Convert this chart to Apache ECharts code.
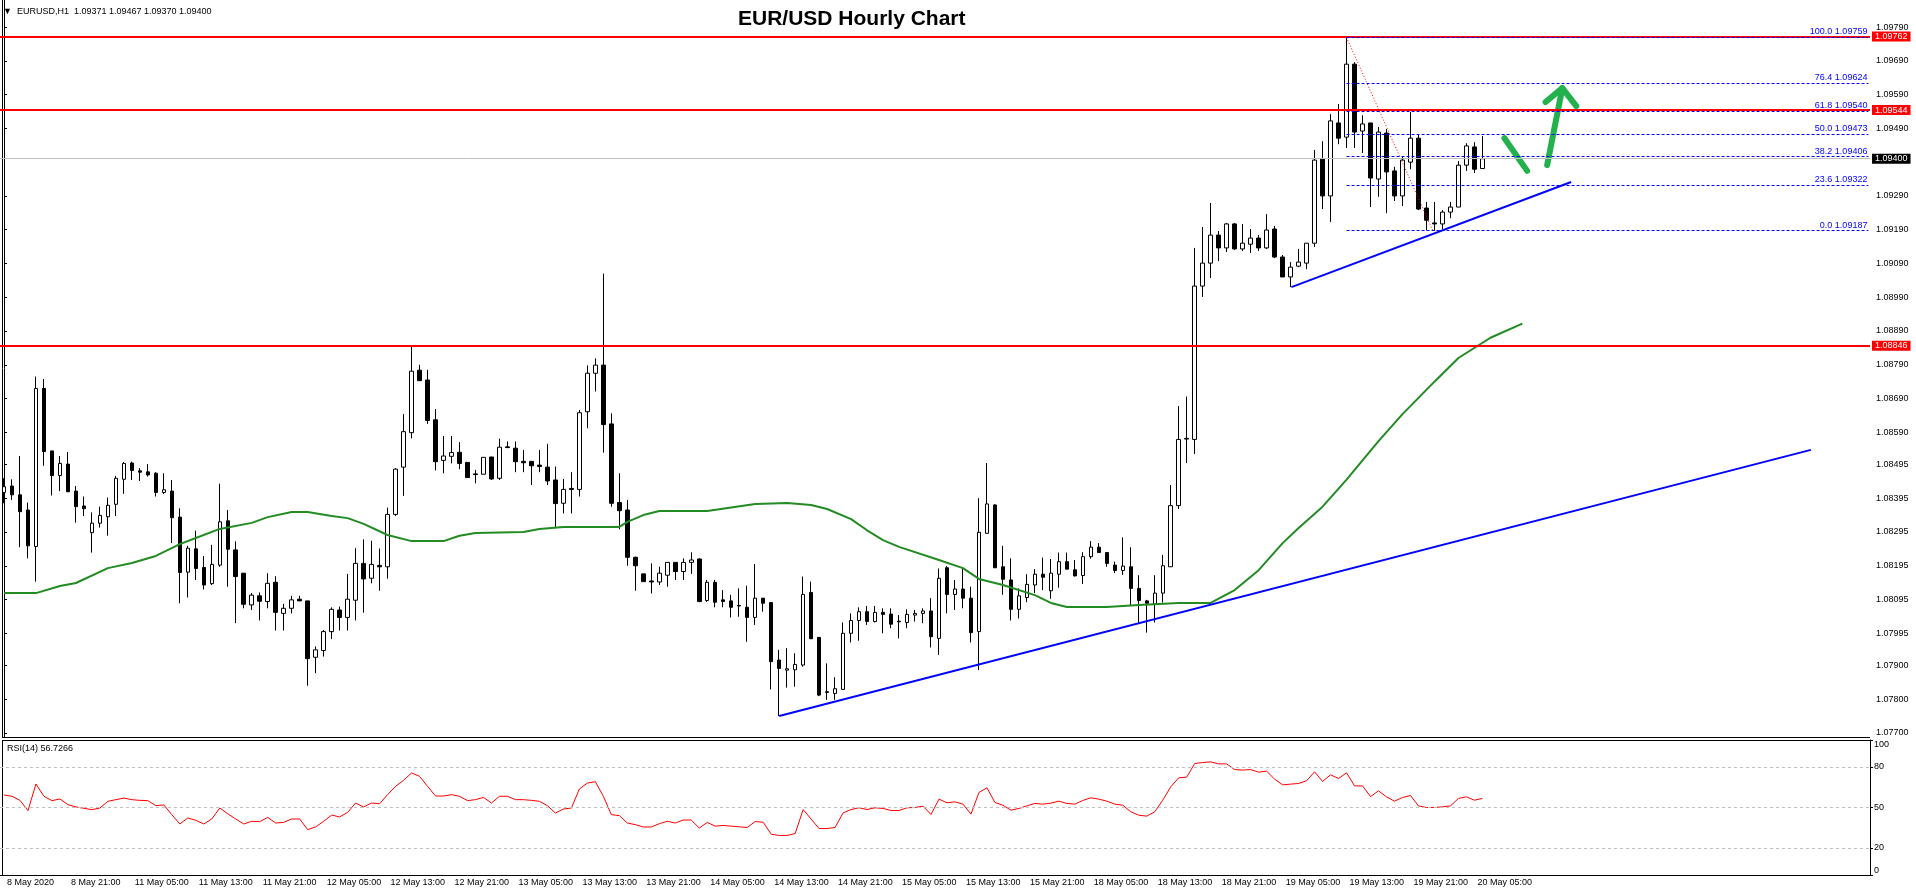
<!DOCTYPE html>
<html>
<head>
<meta charset="utf-8">
<title>EUR/USD Hourly Chart</title>
<script src="https://cdn.jsdelivr.net/npm/echarts@6/dist/echarts.min.js"></script>
<style>
  html, body { margin: 0; padding: 0; background: #fff; }
  #chart { width: 1916px; height: 896px; }
</style>
</head>
<body>
<div id="chart"></div>
<script>
// EURUSD H1 bars, 8 May 2020 13:00 .. 20 May 2020 06:00
const opens = [
  1.08412, 1.08431, 1.08405, 1.08360, 1.08252, 1.08720, 1.08535, 1.08462, 1.08496, 1.08416,
  1.08372, 1.08293, 1.08321, 1.08340, 1.08377, 1.08451, 1.08499, 1.08476, 1.08473, 1.08469,
  1.08412, 1.08416, 1.08339, 1.08176, 1.08245, 1.08190, 1.08142, 1.08197, 1.08328, 1.08242,
  1.08173, 1.08079, 1.08106, 1.08089, 1.08146, 1.08054, 1.08069, 1.08096, 1.08091, 1.07924,
  1.07944, 1.08000, 1.08064, 1.08042, 1.08093, 1.08202, 1.08158, 1.08196, 1.08192, 1.08347,
  1.08487, 1.08589, 1.08774, 1.08745, 1.08627, 1.08507, 1.08519, 1.08531, 1.08501, 1.08467,
  1.08466, 1.08517, 1.08454, 1.08547, 1.08543, 1.08504, 1.08504, 1.08493, 1.08487, 1.08449,
  1.08380, 1.08424, 1.08421, 1.08651, 1.08765, 1.08789, 1.08615, 1.08382, 1.08360, 1.08220,
  1.08171, 1.08150, 1.08147, 1.08167, 1.08205, 1.08178, 1.08205, 1.08215, 1.08092, 1.08146,
  1.08094, 1.08091, 1.08077, 1.08072, 1.08042, 1.08099, 1.08086, 1.07916, 1.07886, 1.07887,
  1.07901, 1.08116, 1.07983, 1.07822, 1.07817, 1.07829, 1.07995, 1.08033, 1.08059, 1.08030,
  1.08057, 1.08052, 1.08031, 1.08027, 1.08049, 1.08054, 1.08061, 1.07980, 1.08189, 1.08110,
  1.08126, 1.08099, 1.08000, 1.08291, 1.08375, 1.08192, 1.08153, 1.08066, 1.08101, 1.08138,
  1.08170, 1.08121, 1.08170, 1.08207, 1.08183, 1.08166, 1.08222, 1.08250, 1.08234, 1.08197,
  1.08181, 1.08192, 1.08128, 1.08091, 1.08081, 1.08114, 1.08192, 1.08373, 1.08570, 1.08569,
  1.09023, 1.09091, 1.09174, 1.09136, 1.09207, 1.09133, 1.09147, 1.09165, 1.09136, 1.09192,
  1.09109, 1.09050, 1.09082, 1.09091, 1.09150, 1.09399, 1.09290, 1.09506, 1.09464, 1.09680,
  1.09482, 1.09506, 1.09340, 1.09476, 1.09364, 1.09290, 1.09390, 1.09461, 1.09254, 1.09210,
  1.09207, 1.09242, 1.09257, 1.09381, 1.09435, 1.09371
];
const highs = [
  1.08454, 1.08451, 1.08520, 1.08382, 1.08755, 1.08748, 1.08535, 1.08520, 1.08532, 1.08431,
  1.08400, 1.08353, 1.08370, 1.08397, 1.08461, 1.08502, 1.08503, 1.08484, 1.08496, 1.08472,
  1.08469, 1.08449, 1.08365, 1.08254, 1.08299, 1.08224, 1.08257, 1.08438, 1.08360, 1.08267,
  1.08173, 1.08114, 1.08116, 1.08173, 1.08164, 1.08082, 1.08106, 1.08106, 1.08091, 1.07956,
  1.08005, 1.08072, 1.08074, 1.08171, 1.08247, 1.08273, 1.08269, 1.08246, 1.08367, 1.08484,
  1.08644, 1.08846, 1.08790, 1.08775, 1.08659, 1.08579, 1.08579, 1.08561, 1.08501, 1.08479,
  1.08516, 1.08517, 1.08571, 1.08563, 1.08563, 1.08538, 1.08504, 1.08538, 1.08556, 1.08489,
  1.08452, 1.08472, 1.08656, 1.08788, 1.08809, 1.09060, 1.08646, 1.08469, 1.08390, 1.08222,
  1.08171, 1.08202, 1.08192, 1.08205, 1.08205, 1.08217, 1.08235, 1.08217, 1.08153, 1.08153,
  1.08123, 1.08109, 1.08128, 1.08136, 1.08200, 1.08099, 1.08088, 1.07946, 1.07951, 1.07936,
  1.08163, 1.08148, 1.07983, 1.07906, 1.07865, 1.08027, 1.08054, 1.08072, 1.08076, 1.08076,
  1.08069, 1.08069, 1.08049, 1.08066, 1.08064, 1.08069, 1.08099, 1.08187, 1.08194, 1.08153,
  1.08189, 1.08133, 1.08395, 1.08499, 1.08377, 1.08254, 1.08217, 1.08128, 1.08170, 1.08185,
  1.08219, 1.08215, 1.08234, 1.08234, 1.08212, 1.08235, 1.08268, 1.08262, 1.08234, 1.08207,
  1.08279, 1.08250, 1.08167, 1.08094, 1.08167, 1.08227, 1.08434, 1.08668, 1.08696, 1.09136,
  1.09198, 1.09269, 1.09186, 1.09210, 1.09210, 1.09207, 1.09192, 1.09174, 1.09236, 1.09201,
  1.09115, 1.09094, 1.09133, 1.09150, 1.09426, 1.09452, 1.09532, 1.09562, 1.09759, 1.09686,
  1.09529, 1.09506, 1.09494, 1.09488, 1.09376, 1.09405, 1.09538, 1.09473, 1.09272, 1.09272,
  1.09248, 1.09272, 1.09393, 1.09446, 1.09449, 1.09467
];
const lows = [
  1.08380, 1.08390, 1.08250, 1.08217, 1.08148, 1.08491, 1.08403, 1.08416, 1.08414, 1.08323,
  1.08342, 1.08234, 1.08308, 1.08284, 1.08342, 1.08408, 1.08449, 1.08446, 1.08459, 1.08400,
  1.08407, 1.08262, 1.08084, 1.08101, 1.08153, 1.08125, 1.08138, 1.08192, 1.08133, 1.08025,
  1.08069, 1.08064, 1.08033, 1.08069, 1.08003, 1.08003, 1.08054, 1.08091, 1.07840, 1.07877,
  1.07926, 1.07978, 1.08003, 1.08003, 1.08033, 1.08056, 1.08143, 1.08121, 1.08157, 1.08342,
  1.08402, 1.08572, 1.08743, 1.08615, 1.08477, 1.08469, 1.08498, 1.08481, 1.08456, 1.08439,
  1.08466, 1.08449, 1.08449, 1.08543, 1.08472, 1.08472, 1.08434, 1.08472, 1.08434, 1.08306,
  1.08350, 1.08350, 1.08400, 1.08602, 1.08711, 1.08530, 1.08370, 1.08303, 1.08195, 1.08121,
  1.08148, 1.08113, 1.08138, 1.08133, 1.08153, 1.08153, 1.08171, 1.08087, 1.08088, 1.08072,
  1.08072, 1.08042, 1.08044, 1.07970, 1.08020, 1.08059, 1.07829, 1.07750, 1.07834, 1.07837,
  1.07896, 1.07978, 1.07809, 1.07798, 1.07798, 1.07827, 1.07968, 1.07973, 1.08020, 1.08027,
  1.07995, 1.08010, 1.07980, 1.08010, 1.08030, 1.08025, 1.07953, 1.07931, 1.08054, 1.08064,
  1.08069, 1.07968, 1.07886, 1.08291, 1.08189, 1.08109, 1.08033, 1.08039, 1.08087, 1.08114,
  1.08123, 1.08097, 1.08130, 1.08185, 1.08163, 1.08141, 1.08216, 1.08234, 1.08192, 1.08173,
  1.08168, 1.08079, 1.08027, 1.07997, 1.08027, 1.08086, 1.08192, 1.08363, 1.08499, 1.08526,
  1.08991, 1.09047, 1.09097, 1.09124, 1.09130, 1.09127, 1.09121, 1.09127, 1.09133, 1.09106,
  1.09050, 1.09020, 1.09079, 1.09073, 1.09139, 1.09251, 1.09213, 1.09443, 1.09432, 1.09432,
  1.09417, 1.09257, 1.09287, 1.09239, 1.09275, 1.09260, 1.09369, 1.09248, 1.09188, 1.09187,
  1.09191, 1.09224, 1.09257, 1.09364, 1.09358, 1.09370
];
const closes = [
  1.08429, 1.08405, 1.08355, 1.08254, 1.08720, 1.08533, 1.08462, 1.08498, 1.08414, 1.08370,
  1.08364, 1.08321, 1.08344, 1.08374, 1.08454, 1.08498, 1.08477, 1.08472, 1.08464, 1.08412,
  1.08420, 1.08337, 1.08175, 1.08247, 1.08187, 1.08138, 1.08199, 1.08325, 1.08244, 1.08163,
  1.08081, 1.08108, 1.08090, 1.08143, 1.08057, 1.08069, 1.08094, 1.08091, 1.07920, 1.07946,
  1.08000, 1.08066, 1.08042, 1.08096, 1.08202, 1.08156, 1.08199, 1.08192, 1.08347, 1.08481,
  1.08592, 1.08771, 1.08743, 1.08625, 1.08503, 1.08520, 1.08530, 1.08498, 1.08456, 1.08465,
  1.08516, 1.08452, 1.08546, 1.08545, 1.08503, 1.08500, 1.08491, 1.08489, 1.08446, 1.08379,
  1.08421, 1.08421, 1.08648, 1.08765, 1.08789, 1.08613, 1.08380, 1.08358, 1.08220, 1.08195,
  1.08148, 1.08147, 1.08173, 1.08205, 1.08178, 1.08205, 1.08212, 1.08089, 1.08146, 1.08087,
  1.08089, 1.08072, 1.08076, 1.08042, 1.08099, 1.08084, 1.07911, 1.07891, 1.07890, 1.07903,
  1.08110, 1.07979, 1.07812, 1.07820, 1.07831, 1.07995, 1.08033, 1.08059, 1.08030, 1.08057,
  1.08051, 1.08022, 1.08029, 1.08051, 1.08054, 1.08061, 1.07985, 1.08158, 1.08110, 1.08126,
  1.08099, 1.07997, 1.08294, 1.08378, 1.08189, 1.08155, 1.08066, 1.08106, 1.08140, 1.08170,
  1.08161, 1.08173, 1.08207, 1.08185, 1.08165, 1.08222, 1.08250, 1.08234, 1.08202, 1.08181,
  1.08194, 1.08128, 1.08092, 1.08084, 1.08114, 1.08195, 1.08373, 1.08569, 1.08572, 1.09023,
  1.09091, 1.09174, 1.09136, 1.09207, 1.09133, 1.09150, 1.09165, 1.09136, 1.09189, 1.09109,
  1.09050, 1.09079, 1.09094, 1.09150, 1.09396, 1.09290, 1.09512, 1.09461, 1.09680, 1.09479,
  1.09503, 1.09343, 1.09479, 1.09361, 1.09290, 1.09396, 1.09461, 1.09251, 1.09218, 1.09207,
  1.09242, 1.09257, 1.09381, 1.09438, 1.09369, 1.09400
];

// RSI(14), one value per bar
const rsiValues = [
  59.3, 58.3, 55.3, 47.7, 67.4, 58.3, 55.1, 56.3, 52.1, 50.4,
  49.4, 48.4, 49.6, 54.6, 55.8, 57.0, 55.8, 55.3, 55.1, 51.4,
  51.9, 44.7, 37.8, 42.2, 40.5, 37.8, 41.5, 49.6, 45.4, 41.5,
  37.8, 39.8, 39.5, 42.7, 38.5, 39.0, 41.5, 41.5, 33.6, 35.6,
  39.8, 44.4, 43.0, 46.4, 53.3, 50.4, 53.3, 52.8, 59.5, 65.7,
  70.1, 75.6, 73.1, 65.7, 58.5, 58.5, 59.5, 58.3, 55.1, 55.8,
  57.5, 53.3, 58.3, 58.3, 55.8, 55.8, 55.3, 54.6, 51.4, 45.9,
  48.9, 49.6, 63.7, 68.1, 69.1, 58.3, 44.7, 44.0, 38.5, 37.3,
  35.6, 35.6, 38.0, 39.8, 38.5, 40.7, 40.7, 34.8, 38.9, 36.2,
  36.7, 36.2, 35.7, 35.2, 39.6, 39.1, 30.2, 29.3, 29.3, 30.7,
  48.5, 41.4, 34.4, 34.4, 35.2, 46.0, 48.5, 49.8, 48.5, 49.8,
  49.3, 47.8, 47.8, 49.8, 50.0, 51.0, 44.8, 56.2, 53.5, 54.2,
  52.5, 45.1, 61.1, 64.6, 53.7, 51.7, 48.0, 49.3, 51.2, 53.0,
  52.5, 53.2, 54.7, 53.0, 52.5, 55.2, 57.2, 56.2, 54.7, 52.5,
  51.7, 46.8, 44.3, 43.6, 46.8, 55.4, 65.3, 72.0, 72.5, 82.6,
  83.3, 83.8, 82.3, 82.3, 78.1, 77.7, 78.1, 76.2, 76.9, 71.0,
  66.8, 67.3, 67.8, 69.8, 76.4, 69.3, 74.2, 71.5, 75.7, 66.0,
  66.0, 58.1, 62.3, 57.9, 54.7, 57.4, 58.9, 51.2, 50.0, 50.0,
  50.5, 51.2, 56.7, 57.9, 55.4, 56.7266
];

// moving average (green), sampled along the drawn curve: bar index / price
const maIndex = [0, 4, 7, 9, 13, 16, 19, 22, 24, 27, 31, 33, 36, 38, 41, 43, 45, 48, 51, 55,
  57, 59, 65, 67, 70, 77, 78, 80, 82, 88, 94, 98, 101, 103, 106, 108, 110, 112, 117, 120,
  122, 125, 129, 131, 133, 138, 142, 147, 151, 154, 157, 160, 162, 165, 168, 172, 175, 179, 182, 186, 190];
const maValues = [1.08114, 1.08114, 1.08135, 1.08144, 1.08188, 1.08203, 1.08224, 1.08259, 1.08277, 1.08304,
  1.08322, 1.08339, 1.08354, 1.08354, 1.08342, 1.08336, 1.08319, 1.08286, 1.08268, 1.08268,
  1.08284, 1.08292, 1.08295, 1.08304, 1.08310, 1.08310, 1.08325, 1.08345, 1.08357, 1.08357,
  1.08378, 1.08381, 1.08375, 1.08363, 1.08333, 1.08300, 1.08271, 1.08251, 1.08212, 1.08188,
  1.08156, 1.08138, 1.08108, 1.08085, 1.08073, 1.08073, 1.08079, 1.08085, 1.08085, 1.08123,
  1.08182, 1.08262, 1.08307, 1.08370, 1.08450, 1.08564, 1.08644, 1.08740, 1.08810, 1.08870, 1.08912];

// hand-drawn objects, as [bar index, price]
const resistanceLevels = [1.09762, 1.09544, 1.08846];
const lastPrice = 1.09400;
const fibStart = 168;
const fibLevels = [['100.0', 1.09759], ['76.4', 1.09624], ['61.8', 1.09540], ['50.0', 1.09473],
  ['38.2', 1.09406], ['23.6', 1.09322], ['0.0', 1.09187]];
const fibDiagonal = [[168, 1.09759], [178.8, 1.09187]];
const trendLong = [[97, 1.07750], [226.1, 1.08538]];
const trendShort = [[161.1, 1.09020], [196.1, 1.09331]];
const arrowDown = [[187.75, 1.09461], [190.6, 1.09364]];
const arrowShaft = [[193.1, 1.09381], [195, 1.09609]];
const arrowHead = [[192.9, 1.09568], [195, 1.09609], [196.75, 1.09556]];

// axis ticks as MT4 prints them
const priceTicks = [1.07700, 1.07800, 1.07900, 1.07995, 1.08095, 1.08195, 1.08295, 1.08395, 1.08495,
  1.08590, 1.08690, 1.08790, 1.08890, 1.08990, 1.09090, 1.09190, 1.09290, 1.09490, 1.09590, 1.09690, 1.09790];
const rsiTicks = [0, 20, 50, 80, 100];
const rsiLevels = [80, 50, 20];
const tradingDays = ['8 May', '11 May', '12 May', '13 May', '14 May', '15 May', '18 May', '19 May', '20 May', '21 May', '22 May'];
const firstHour = 13;
const slotCount = 234;
const lastBar = opens.length - 1;

const categories = [];
tradingDays.forEach((d, k) => {
  for (let h = k === 0 ? firstHour : 0; h < 24; h++) {
    categories.push(d + ' ' + String(h).padStart(2, '0') + ':00');
  }
});
categories.length = slotCount;

const candles = opens.map((o, i) => [o, closes[i], lows[i], highs[i]]);
const maLine = maIndex.map((x, i) => [x, maValues[i]]);

const FONT = '"Liberation Sans", Arial, sans-serif';
const small = { fontFamily: FONT, fontSize: 9, color: '#000' };
const onLabel = (i) => i % 8 === 0 && i <= lastBar;

// horizontal price levels + price tags on the right
const levelLines = resistanceLevels.map((p) => ({
  yAxis: p,
  lineStyle: { color: '#ff0000', width: 2, type: 'solid' },
  label: { backgroundColor: '#ff0000', formatter: p.toFixed(5) }
}));
levelLines.unshift({
  yAxis: lastPrice,
  lineStyle: { color: '#c0c0c0', width: 1, type: 'solid' },
  label: { backgroundColor: '#000', formatter: lastPrice.toFixed(5) }
});

const chart = echarts.init(document.getElementById('chart'));
chart.setOption({
  animation: false,
  backgroundColor: '#fff',
  title: [
    { text: 'EUR/USD Hourly Chart', left: 738, top: 9, padding: 0,
      textStyle: { fontFamily: FONT, fontSize: 21, fontWeight: 'bold', color: '#000' } },
    { text: '\u25BC  EURUSD,H1  1.09371 1.09467 1.09370 1.09400', left: 3, top: 7, padding: 0,
      textStyle: Object.assign({ fontWeight: 'normal' }, small) },
    { text: 'RSI(14) 56.7266', left: 7, top: 744, padding: 0,
      textStyle: Object.assign({ fontWeight: 'normal' }, small) }
  ],
  grid: [
    { left: -1, top: 0, width: 1871, height: 737 },
    { left: -1, top: 740, width: 1871, height: 135 }
  ],
  xAxis: [
    { type: 'category', gridIndex: 0, data: categories, show: false },
    { type: 'category', gridIndex: 1, data: categories,
      axisLine: { lineStyle: { color: '#000', width: 1 } },
      axisTick: { alignWithLabel: true, length: 4, interval: onLabel, lineStyle: { color: '#000' } },
      axisLabel: Object.assign({ interval: onLabel, align: 'left', margin: 3, padding: [0, 0, 0, 3],
        formatter: (v, i) => (i === 0 ? '8 May 2020' : v) }, small),
      splitLine: { show: false } },
    { type: 'value', gridIndex: 0, min: -0.5, max: slotCount - 0.5, show: false }
  ],
  yAxis: [
    { type: 'value', gridIndex: 0, position: 'right', min: 1.07688, max: 1.0987,
      axisLine: { show: true, lineStyle: { color: '#000' } },
      axisTick: { show: true, length: 3, customValues: priceTicks, lineStyle: { color: '#000' } },
      axisLabel: Object.assign({ customValues: priceTicks, margin: 6, formatter: (v) => v.toFixed(5) }, small),
      splitLine: { show: false } },
    { type: 'value', gridIndex: 1, position: 'right', min: 0, max: 100,
      axisLine: { show: true, lineStyle: { color: '#000' } },
      axisTick: { show: true, length: 3, customValues: rsiTicks, lineStyle: { color: '#000' } },
      axisLabel: Object.assign({ customValues: rsiTicks, margin: 4,
        verticalAlignMinLabel: 'bottom', verticalAlignMaxLabel: 'top' }, small),
      splitLine: { show: false } }
  ],
  graphic: [
    { type: 'line', shape: { x1: 2.5, y1: 0, x2: 2.5, y2: 737 }, style: { stroke: '#000', lineWidth: 1 } },
    { type: 'line', shape: { x1: 2, y1: 737.5, x2: 1870, y2: 737.5 }, style: { stroke: '#000', lineWidth: 1 } },
    { type: 'line', shape: { x1: 2, y1: 740.5, x2: 1870, y2: 740.5 }, style: { stroke: '#000', lineWidth: 1 } },
    { type: 'line', shape: { x1: 2.5, y1: 740, x2: 2.5, y2: 875 }, style: { stroke: '#000', lineWidth: 1 } }
  ],
  series: [
    {
      name: 'EURUSD', type: 'candlestick', xAxisIndex: 0, yAxisIndex: 0,
      data: candles, barWidth: 4, z: 3,
      itemStyle: { color: '#fff', color0: '#000', borderColor: '#000', borderColor0: '#000', borderWidth: 1 }
    },
    {
      name: 'MA', type: 'line', xAxisIndex: 2, yAxisIndex: 0, data: maLine, z: 4,
      symbol: 'none', smooth: false,
      lineStyle: { color: '#228b22', width: 2 },
      markLine: {
        silent: true, symbol: ['none', 'none'], precision: 5,
        label: { position: 'end', distance: 2, fontFamily: FONT, fontSize: 9, color: '#fff', padding: [1, 3, 0, 3] },
        data: levelLines
      }
    },
    {
      name: 'Fibo', type: 'line', xAxisIndex: 2, yAxisIndex: 0, data: fibDiagonal, z: 4,
      symbol: 'none', lineStyle: { color: '#ff0000', width: 1, type: [1, 2] },
      markLine: {
        silent: true, symbol: ['none', 'none'], precision: 5,
        lineStyle: { color: '#0000ff', width: 1, type: [3, 2] },
        label: { position: 'insideEndTop', distance: 1, fontFamily: FONT, fontSize: 9, color: '#0000ff', formatter: '{b}' },
        data: fibLevels.map(([pct, p]) => [
          { coord: [fibStart, p], name: pct + ' ' + p.toFixed(5) },
          { coord: [slotCount - 0.7, p] }
        ])
      }
    },
    {
      name: 'Trend long', type: 'line', xAxisIndex: 2, yAxisIndex: 0, data: trendLong, z: 4,
      symbol: 'none', lineStyle: { color: '#0000ff', width: 2 }
    },
    {
      name: 'Trend short', type: 'line', xAxisIndex: 2, yAxisIndex: 0, data: trendShort, z: 4,
      symbol: 'none', lineStyle: { color: '#0000ff', width: 2 }
    },
    {
      name: 'Arrow down', type: 'line', xAxisIndex: 2, yAxisIndex: 0, data: arrowDown, z: 4,
      symbol: 'none', lineStyle: { color: '#22b14c', width: 6, cap: 'round', join: 'round' }
    },
    {
      name: 'Arrow shaft', type: 'line', xAxisIndex: 2, yAxisIndex: 0, data: arrowShaft, z: 4,
      symbol: 'none', lineStyle: { color: '#22b14c', width: 6, cap: 'round', join: 'round' }
    },
    {
      name: 'Arrow head', type: 'line', xAxisIndex: 2, yAxisIndex: 0, data: arrowHead, z: 4,
      symbol: 'none', lineStyle: { color: '#22b14c', width: 6, cap: 'round', join: 'round' }
    },
    {
      name: 'RSI', type: 'line', xAxisIndex: 1, yAxisIndex: 1, data: rsiValues,
      symbol: 'none', lineStyle: { color: '#ff0000', width: 1 },
      markLine: {
        silent: true, symbol: ['none', 'none'], label: { show: false },
        lineStyle: { color: '#c0c0c0', width: 1, type: [3, 3] },
        data: rsiLevels.map((v) => ({ yAxis: v }))
      }
    }
  ]
});
</script>
</body>
</html>
